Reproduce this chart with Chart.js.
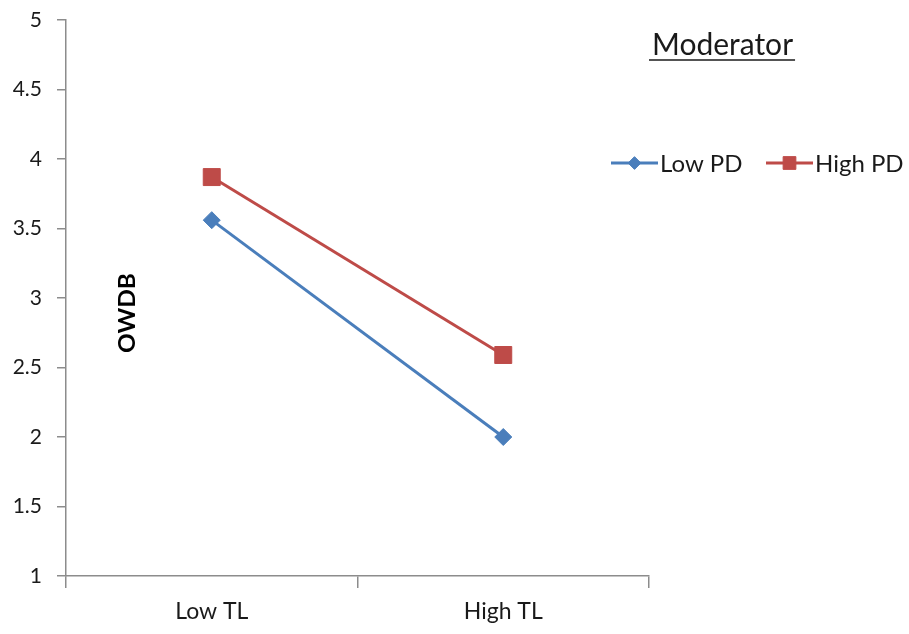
<!DOCTYPE html>
<html>
<head>
<meta charset="utf-8">
<script src="https://cdn.jsdelivr.net/npm/chart.js@4.4.1/dist/chart.umd.min.js"></script>
<style>
  html, body { margin: 0; padding: 0; background: #fff; }
  #wrap { width: 909px; height: 634px; position: relative; }
</style>
</head>
<body>
<div id="wrap"><canvas id="chart" width="909" height="634"></canvas></div>
<script>
// Interaction plot: OWDB by TL level, split by PD moderator
const categories = ['Low TL', 'High TL'];
const lowPD = [3.56, 2.0];
const highPD = [3.87, 2.59];
const yTicks = [1, 1.5, 2, 2.5, 3, 3.5, 4, 4.5, 5];

const FONT = 'Lato, "Open Sans", sans-serif';
const AXIS_GREY = '#8c8c8c';
const TEXT = '#1a1a1a';
const BLUE = '#4a7ebb';
const RED = '#be4b48';

// Title, legend and the in-plot axis caption are drawn by hand
const annotations = {
    id: 'annotations',
    afterDraw(chart) {
        const ctx = chart.ctx;
        ctx.save();

        // "Moderator" heading, underlined
        ctx.fillStyle = TEXT;
        ctx.font = '30px ' + FONT;
        ctx.textBaseline = 'alphabetic';
        ctx.textAlign = 'left';
        ctx.fillText('Moderator', 652, 55);
        const w = ctx.measureText('Moderator').width;
        ctx.strokeStyle = TEXT;
        ctx.lineWidth = 1.5;
        ctx.beginPath();
        ctx.moveTo(649, 60);
        ctx.lineTo(652 + w + 2, 60);
        ctx.stroke();

        // legend entries
        const items = [
            { ds: chart.data.datasets[0], x: 611 },
            { ds: chart.data.datasets[1], x: 766 }
        ];
        const ly = 163;
        items.forEach(it => {
            ctx.strokeStyle = it.ds.borderColor;
            ctx.fillStyle = it.ds.backgroundColor;
            ctx.lineWidth = 3;
            ctx.beginPath();
            ctx.moveTo(it.x, ly);
            ctx.lineTo(it.x + 47, ly);
            ctx.stroke();
            ctx.lineWidth = 1;
            Chart.helpers.drawPoint(ctx, {
                pointStyle: it.ds.pointStyle,
                radius: it.ds.pointRadius * 0.75,
                borderWidth: 1
            }, it.x + 23.5, ly);
            ctx.fillStyle = TEXT;
            ctx.font = '24px ' + FONT;
            ctx.textBaseline = 'middle';
            ctx.fillText(it.ds.label, it.x + 49, ly + 1);
        });

        // y caption sitting inside the plot
        ctx.translate(128, 313);
        ctx.rotate(-Math.PI / 2);
        ctx.font = 'bold 22px ' + FONT;
        const cw = ctx.measureText('OWDB').width;
        ctx.scale(80 / cw, 1);
        ctx.textAlign = 'center';
        ctx.textBaseline = 'middle';
        ctx.fillStyle = '#000';
        ctx.fillText('OWDB', 0, 0);
        ctx.restore();
    }
};

new Chart(document.getElementById('chart'), {
    type: 'line',
    data: {
        labels: categories,
        datasets: [{
            label: 'Low PD',
            data: lowPD,
            borderColor: BLUE,
            backgroundColor: BLUE,
            borderWidth: 3,
            pointStyle: 'rectRot',
            pointRadius: 8.5,
            pointBorderWidth: 1,
            tension: 0
        }, {
            label: 'High PD',
            data: highPD,
            borderColor: RED,
            backgroundColor: RED,
            borderWidth: 3,
            pointStyle: 'rect',
            pointRadius: 12,
            pointBorderWidth: 1,
            tension: 0
        }]
    },
    options: {
        responsive: false,
        animation: false,
        layout: { padding: { top: 0, right: 260, left: 0, bottom: 0 } },
        plugins: {
            legend: { display: false },
            tooltip: { enabled: false }
        },
        scales: {
            x: {
                offset: true,
                grid: {
                    offset: true,
                    drawOnChartArea: false,
                    drawTicks: true,
                    tickLength: 12,
                    color: AXIS_GREY,
                    lineWidth: 1.5
                },
                border: { color: AXIS_GREY, width: 1.5 },
                ticks: {
                    color: TEXT,
                    font: { family: FONT, size: 23 },
                    padding: 10
                },
                afterFit(scale) { scale.height = 58; }
            },
            y: {
                min: 1,
                max: 5,
                afterBuildTicks(scale) {
                    scale.ticks = yTicks.map(v => ({ value: v }));
                },
                grid: {
                    drawOnChartArea: false,
                    drawTicks: true,
                    tickLength: 9,
                    color: AXIS_GREY,
                    lineWidth: 1.5
                },
                border: { color: AXIS_GREY, width: 1.5 },
                ticks: {
                    color: TEXT,
                    font: { family: FONT, size: 21 },
                    padding: 15,
                    callback: v => String(v)
                },
                afterFit(scale) {
                    scale.width = 66;
                    scale.paddingTop = 20;
                }
            }
        }
    },
    plugins: [annotations]
});
</script>
</body>
</html>
